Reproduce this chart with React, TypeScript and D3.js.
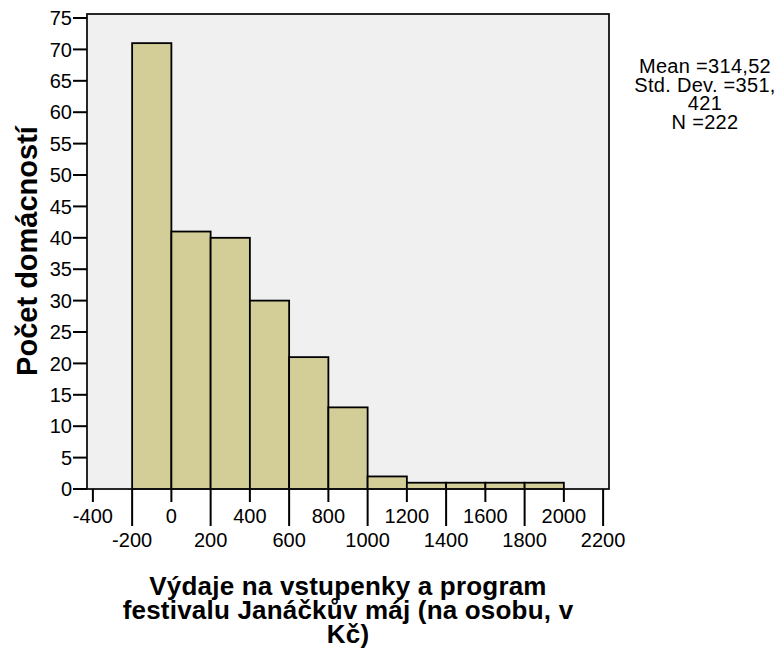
import React from 'react';
import { scaleLinear, range } from 'd3';

// histogram bins (lower edge, upper edge) and counts
const binStarts = [-200, 0, 200, 400, 600, 800, 1000, 1200, 1400, 1600, 1800];
const binWidth = 200;
const counts = [71, 41, 40, 30, 21, 13, 2, 1, 1, 1, 1];

const xTicks = [-400, -200, 0, 200, 400, 600, 800, 1000, 1200, 1400, 1600, 1800, 2000, 2200];
const yTicks = range(0, 80, 5);

const statsLines = ['Mean =314,52', 'Std. Dev. =351,', '421', 'N =222'];
const yTitle = 'Počet domácností';
const xTitleLines = ['Výdaje na vstupenky a program', 'festivalu Janáčkův máj (na osobu, v', 'Kč)'];

const W = 784;
const H = 650;
const left = 87, right = 609, top = 14, bottom = 489;
const font = '"Liberation Sans", Arial, sans-serif';

export default function App() {
  const x = scaleLinear().domain([-430, 2230]).range([left, right]);
  const y = scaleLinear().domain([0, 75.64]).range([bottom, top]);

  return (
    <svg width={W} height={H} style={{ position: 'absolute', left: 0, top: 0, background: '#fff' }} fontFamily={font}>
      <rect x={left} y={top} width={right - left} height={bottom - top} fill="#f0f0f0" />

      {/* bars */}
      <g fill="#d3ce98" stroke="#000" strokeWidth={1.8}>
        {counts.map((c, i) => (
          <rect key={i}
            x={x(binStarts[i])}
            y={y(c)}
            width={x(binStarts[i] + binWidth) - x(binStarts[i])}
            height={bottom - y(c)} />
        ))}
      </g>

      {/* frame */}
      <rect x={left} y={top} width={right - left} height={bottom - top} fill="none" stroke="#111" strokeWidth={1.8} />

      {/* y axis */}
      <g fontSize={20} textAnchor="end" fill="#000">
        {yTicks.map(t => (
          <g key={t}>
            <line x1={left - 14} x2={left} y1={y(t)} y2={y(t)} stroke="#000" strokeWidth={2} />
            <text x={left - 15} y={y(t)} dy="0.36em">{t}</text>
          </g>
        ))}
      </g>

      {/* x axis, labels alternate between two rows */}
      <g fontSize={20} textAnchor="middle" fill="#000">
        {xTicks.map((t, i) => {
          const long = i % 2 === 1;
          return (
            <g key={t}>
              <line x1={x(t)} x2={x(t)} y1={bottom} y2={long ? bottom + 37 : bottom + 13} stroke="#000" strokeWidth={2} />
              <text x={x(t)} y={long ? 547 : 523}>{t}</text>
            </g>
          );
        })}
      </g>

      <text transform={`translate(37,251) rotate(-90)`} textAnchor="middle"
        fontSize={29} fontWeight="bold">{yTitle}</text>

      <g fontSize={26} fontWeight="bold" textAnchor="middle" letterSpacing={0.2}>
        {xTitleLines.map((l, i) => (
          <text key={i} x={348} y={595 + i * 24}>{l}</text>
        ))}
      </g>

      <g fontSize={20} textAnchor="middle" letterSpacing={0.3}>
        {statsLines.map((l, i) => (
          <text key={i} x={705} y={73 + i * 18.7}>{l}</text>
        ))}
      </g>
    </svg>
  );
}
